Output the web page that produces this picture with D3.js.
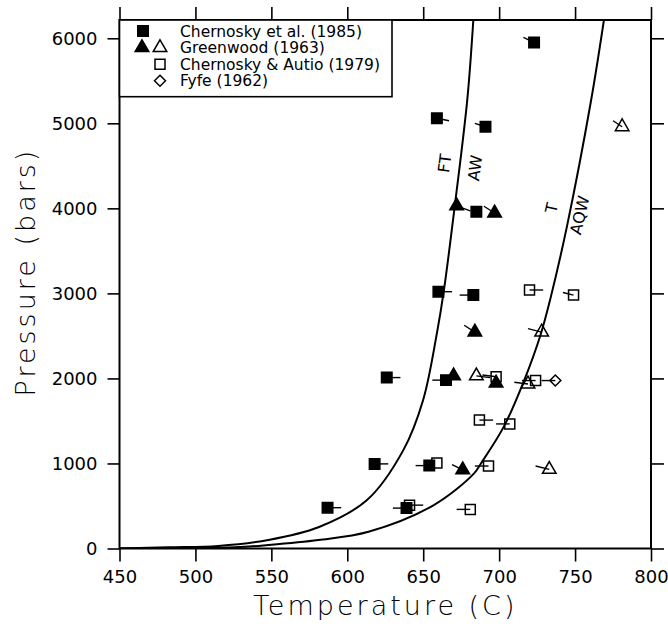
<!DOCTYPE html>
<html>
    <head>
        <script src="https://d3js.org/d3.v7.min.js"></script>
        <style>
            body { margin: 0; background: #fff; }
            text { font-family: "DejaVu Sans", sans-serif; fill: #000; }
        </style>
    </head>
    <body>
        <div id="chart"></div>
        <script>
            // tick values
            const tempTicks = [450, 500, 550, 600, 650, 700, 750, 800]
            const pressTicks = [0, 1000, 2000, 3000, 4000, 5000, 6000]

            // experimental brackets: [T (C), P (bars), tail dT, tail dP]
            const chernosky1985 = [
                [723, 5950, -7, 60], [659, 5060, 8, -30], [691, 4960, -7, 40],
                [685, 3960, 0, 0], [660, 3020, 9, 0], [683, 2980, -9, 0],
                [626, 2010, 9, 0], [665, 1980, -9, 0], [618, 995, 9, 0],
                [654, 975, -9, 0], [587, 480, 9, 0], [639, 475, -9, 0]
            ]
            const greenwoodFilled = [
                [672, 4030, 9, -60], [697, 3945, -7, 80], [684, 2545, -7, 80],
                [670, 2030, 0, 0], [698, 1945, 0, 0], [676, 925, -7, 60]
            ]
            const greenwoodOpen = [
                [781, 4960, -6, 70], [728, 2545, -9, 40], [685, 2030, 9, -20],
                [719, 1935, -9, 20], [733, 930, -9, 40]
            ]
            const chernoskyAutio1979 = [
                [720, 3040, 9, 0], [749, 2980, -7, 30], [698, 2020, -9, 20],
                [724, 1975, -9, 0], [687, 1510, 9, 0], [707, 1465, -9, 0],
                [659, 1005, 0, 0], [693, 970, -9, 0], [641, 510, 9, 0],
                [681, 460, -9, 0]
            ]
            const fyfe1962 = [[737, 1975, -9, 0]]

            // reaction curves [T, P]
            const curveFTAW = [
                [450, 0], [482, 14], [515, 30], [548, 100], [581, 250], [613, 570],
                [637, 1160], [650, 1750], [659, 2530], [663.5, 3020], [671, 4060],
                [679, 5275], [683, 6215]
            ]
            const curveTAQW = [
                [450, 0], [526, 14], [548, 41], [581, 100], [614, 197], [657, 511],
                [683.5, 883], [688, 1000], [703, 1430], [716.5, 1978], [727.5, 2526],
                [734, 2956], [745, 3818], [760.5, 5265], [769, 6215]
            ]
            const curveLabels = [
                {text: "FT", T: 664, P: 4530, rot: -83},
                {text: "AW", T: 684, P: 4475, rot: -83},
                {text: "T", T: 734.5, P: 4005, rot: -77},
                {text: "AQW", T: 753, P: 3920, rot: -77}
            ]
            const legendItems = ["Chernosky et al. (1985)", "Greenwood (1963)", "Chernosky & Autio (1979)", "Fyfe (1962)"]

            const width = 668
            const height = 627
            const mLeft = 119.5, mRight = 651, mTop = 20, mBottom = 548.5

            const x = d3.scaleLinear([450, 800], [mLeft, mRight])
            const y = d3.scaleLinear([0, 6215], [mBottom, mTop])

            const svg = d3.select("#chart")
                .append("svg")
                .attr("width", width)
                .attr("height", height)

            svg.append("defs").append("clipPath").attr("id", "plot")
                .append("rect")
                .attr("x", mLeft).attr("y", mTop)
                .attr("width", mRight - mLeft).attr("height", mBottom - mTop)

            // axes
            const styleAxis = g => {
                g.select(".domain").remove()
                g.selectAll(".tick line").attr("stroke", "#000").attr("stroke-width", 1.6)
                g.selectAll(".tick text").style("font-size", "18px").attr("font-family", null)
            }
            svg.append("g").attr("transform", `translate(0,${mBottom})`)
                .call(d3.axisBottom(x).tickValues(tempTicks).tickSize(13).tickPadding(9).tickFormat(d3.format("d")))
                .call(styleAxis)
            svg.append("g").attr("transform", `translate(0,${mTop})`)
                .call(d3.axisTop(x).tickValues(tempTicks).tickSize(13).tickFormat(""))
                .call(styleAxis)
            svg.append("g").attr("transform", `translate(${mLeft},0)`)
                .call(d3.axisLeft(y).tickValues(pressTicks).tickSize(12).tickPadding(10).tickFormat(d3.format("d")))
                .call(styleAxis)
            svg.append("g").attr("transform", `translate(${mRight},0)`)
                .call(d3.axisRight(y).tickValues(pressTicks).tickSize(13).tickFormat(""))
                .call(styleAxis)

            svg.append("rect")
                .attr("x", mLeft).attr("y", mTop)
                .attr("width", mRight - mLeft).attr("height", mBottom - mTop)
                .attr("fill", "none").attr("stroke", "#000").attr("stroke-width", 2)

            // axis titles
            svg.append("text")
                .attr("x", (mLeft + mRight) / 2).attr("y", 615)
                .attr("text-anchor", "middle")
                .style("font-size", "27px").style("font-weight", 300)
                .style("letter-spacing", "3px")
                .text("Temperature (C)")
            svg.append("text")
                .attr("transform", `translate(35,272) rotate(-90)`)
                .attr("text-anchor", "middle")
                .style("font-size", "27px").style("font-weight", 300)
                .style("letter-spacing", "3px")
                .text("Pressure (bars)")

            // curves
            const line = d3.line()
                .x(d => x(d[0]))
                .y(d => y(d[1]))
                .curve(d3.curveCatmullRom.alpha(0.5))
            const curves = svg.append("g").attr("clip-path", "url(#plot)")
            curves.selectAll("path")
                .data([curveFTAW, curveTAQW])
                .join("path")
                .attr("d", line)
                .attr("fill", "none")
                .attr("stroke", "#000")
                .attr("stroke-width", 2)

            svg.append("g").selectAll("text")
                .data(curveLabels)
                .join("text")
                .attr("transform", d => `translate(${x(d.T)},${y(d.P)}) rotate(${d.rot})`)
                .attr("text-anchor", "middle")
                .attr("dy", "0.36em")
                .style("font-size", "16px")
                .text(d => d.text)

            // markers
            const square = d3.symbol(d3.symbolSquare, 110)
            const smallSquare = d3.symbol(d3.symbolSquare, 100)
            const triangle = d3.symbol(d3.symbolTriangle, 80)
            const diamond = "M0,-5.5L5.5,0L0,5.5L-5.5,0Z"

            const sets = [
                {data: chernoskyAutio1979, path: smallSquare(), fill: "none"},
                {data: greenwoodOpen, path: triangle(), fill: "none"},
                {data: fyfe1962, path: diamond, fill: "none"},
                {data: chernosky1985, path: square(), fill: "#000"},
                {data: greenwoodFilled, path: triangle(), fill: "#000"}
            ]

            const marks = svg.append("g")
            sets.forEach(s => {
                marks.append("g").selectAll("line")
                    .data(s.data.filter(d => d[2] || d[3]))
                    .join("line")
                    .attr("x1", d => x(d[0])).attr("y1", d => y(d[1]))
                    .attr("x2", d => x(d[0] + d[2])).attr("y2", d => y(d[1] + d[3]))
                    .attr("stroke", "#000").attr("stroke-width", 1.4)
            })
            sets.forEach(s => {
                marks.append("g").selectAll("path")
                    .data(s.data)
                    .join("path")
                    .attr("transform", d => `translate(${x(d[0])},${y(d[1])})`)
                    .attr("d", s.path)
                    .attr("fill", s.fill)
                    .attr("stroke", "#000")
                    .attr("stroke-width", 1.5)
            })

            // legend
            const legend = svg.append("g")
            legend.append("rect")
                .attr("x", mLeft).attr("y", mTop)
                .attr("width", 392 - mLeft).attr("height", 96.7 - mTop)
                .attr("fill", "#fff").attr("stroke", "#000").attr("stroke-width", 1.6)
            const rowY = i => 31 + i * 16.6
            legend.selectAll("text")
                .data(legendItems)
                .join("text")
                .attr("x", 180).attr("y", (d, i) => rowY(i))
                .attr("dy", "0.36em")
                .style("font-size", "15.5px")
                .text(d => d)
            const legendMarks = [
                {row: 0, dx: 143, path: square(), fill: "#000"},
                {row: 1, dx: 142, path: triangle(), fill: "#000"},
                {row: 1, dx: 160, path: triangle(), fill: "none"},
                {row: 2, dx: 160, path: smallSquare(), fill: "none"},
                {row: 3, dx: 160, path: diamond, fill: "none"}
            ]
            legend.selectAll("path")
                .data(legendMarks)
                .join("path")
                .attr("transform", d => `translate(${d.dx},${rowY(d.row)})`)
                .attr("d", d => d.path)
                .attr("fill", d => d.fill)
                .attr("stroke", "#000")
                .attr("stroke-width", 1.5)
        </script>
    </body>
</html>
